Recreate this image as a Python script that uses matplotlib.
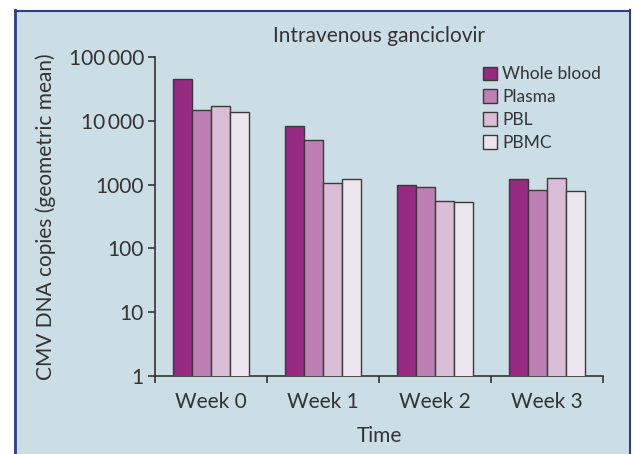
import matplotlib
matplotlib.use("Agg")
import matplotlib.pyplot as plt
from matplotlib.patches import Rectangle
from matplotlib.lines import Line2D
import numpy as np

plt.rcParams['font.family'] = ['Lato', 'DejaVu Sans']

categories = ["Week 0", "Week 1", "Week 2", "Week 3"]
series_names = ["Whole blood", "Plasma", "PBL", "PBMC"]
whole_blood = [45000, 8300, 1000, 1210]
plasma = [14800, 5100, 930, 825]
pbl = [17100, 1040, 560, 1275]
pbmc = [13750, 1230, 530, 805]
yticks = [1, 10, 100, 1000, 10000, 100000]
ytick_labels = ["1", "10", "100", "1000", "10\u2009000", "100\u2009000"]

colors = ["#962a80", "#be80b2", "#d9bcd5", "#eee6ee"]
bg = "#cbdde5"
text_color = "#333333"

W, H = 635, 454
fig = plt.figure(figsize=(W / 100, H / 100), dpi=100, facecolor="white")

# background panel with border (left, top, right)
fig.patches.append(Rectangle((14 / W, 0), (630 - 14) / W, (H - 10) / H,
                             transform=fig.transFigure, facecolor=bg,
                             edgecolor="none", zorder=-10))
bc = "#2e3b8e"
fig.lines.append(Line2D([14.5 / W, 14.5 / W], [0, 1 - 10 / H], transform=fig.transFigure, color=bc, lw=2, zorder=-5))
fig.lines.append(Line2D([14.5 / W, 629.5 / W], [1 - 10.5 / H, 1 - 10.5 / H], transform=fig.transFigure, color=bc, lw=1.5, zorder=-5))
fig.lines.append(Line2D([629.5 / W, 629.5 / W], [0, 1 - 10 / H], transform=fig.transFigure, color=bc, lw=1.5, zorder=-5))

left, right, top, bottom = 155, 603, 57.3, 375.5
ax = fig.add_axes([left / W, 1 - bottom / H, (right - left) / W, (bottom - top) / H])
ax.set_facecolor("none")

x = np.arange(len(categories))
bw = 0.17
all_series = [whole_blood, plasma, pbl, pbmc]
for i, (name, vals) in enumerate(zip(series_names, all_series)):
    ax.bar(x + (i - 1.5) * bw, vals, width=bw, color=colors[i], edgecolor="#3a3a3a",
           linewidth=1.0, label=name, zorder=3)

ax.set_yscale("log")
ax.set_ylim(1, 100000)
ax.set_xlim(-0.5, 3.5)
ax.set_yticks(yticks)
ax.set_yticklabels(ytick_labels)
ax.yaxis.set_minor_locator(matplotlib.ticker.NullLocator())

ax.set_xticks(np.arange(-0.5, 4.0, 1.0))
ax.set_xticklabels([])
ax.set_xticks(x, minor=True)
ax.set_xticklabels(categories, minor=True)
ax.tick_params(axis="x", which="minor", length=0, pad=12, labelsize=15, labelcolor=text_color)
ax.tick_params(axis="x", which="major", length=5, width=1.2, color="#333333")
ax.tick_params(axis="y", which="major", length=5, width=1.2, color="#333333", labelsize=15,
               labelcolor=text_color, pad=3)

for s in ["top", "right"]:
    ax.spines[s].set_visible(False)
for s in ["left", "bottom"]:
    ax.spines[s].set_color("#333333")
    ax.spines[s].set_linewidth(1.2)

ax.set_xlabel("Time", fontsize=15, color=text_color, labelpad=10)
ax.set_ylabel("CMV DNA copies (geometric mean)", fontsize=15, color=text_color)
ax.yaxis.set_label_coords(-0.222, 0.5)
ax.set_title("Intravenous ganciclovir", fontsize=15, color=text_color, pad=11)

leg = ax.legend(loc="upper left", bbox_to_anchor=(0.732, 0.972), frameon=False, fontsize=12.5,
                handlelength=0.8, handleheight=0.8, handletextpad=0.3, labelspacing=0.4,
                borderaxespad=0, borderpad=0)
for t in leg.get_texts():
    t.set_color(text_color)

fig.savefig("out.png", dpi=100, facecolor="white")
